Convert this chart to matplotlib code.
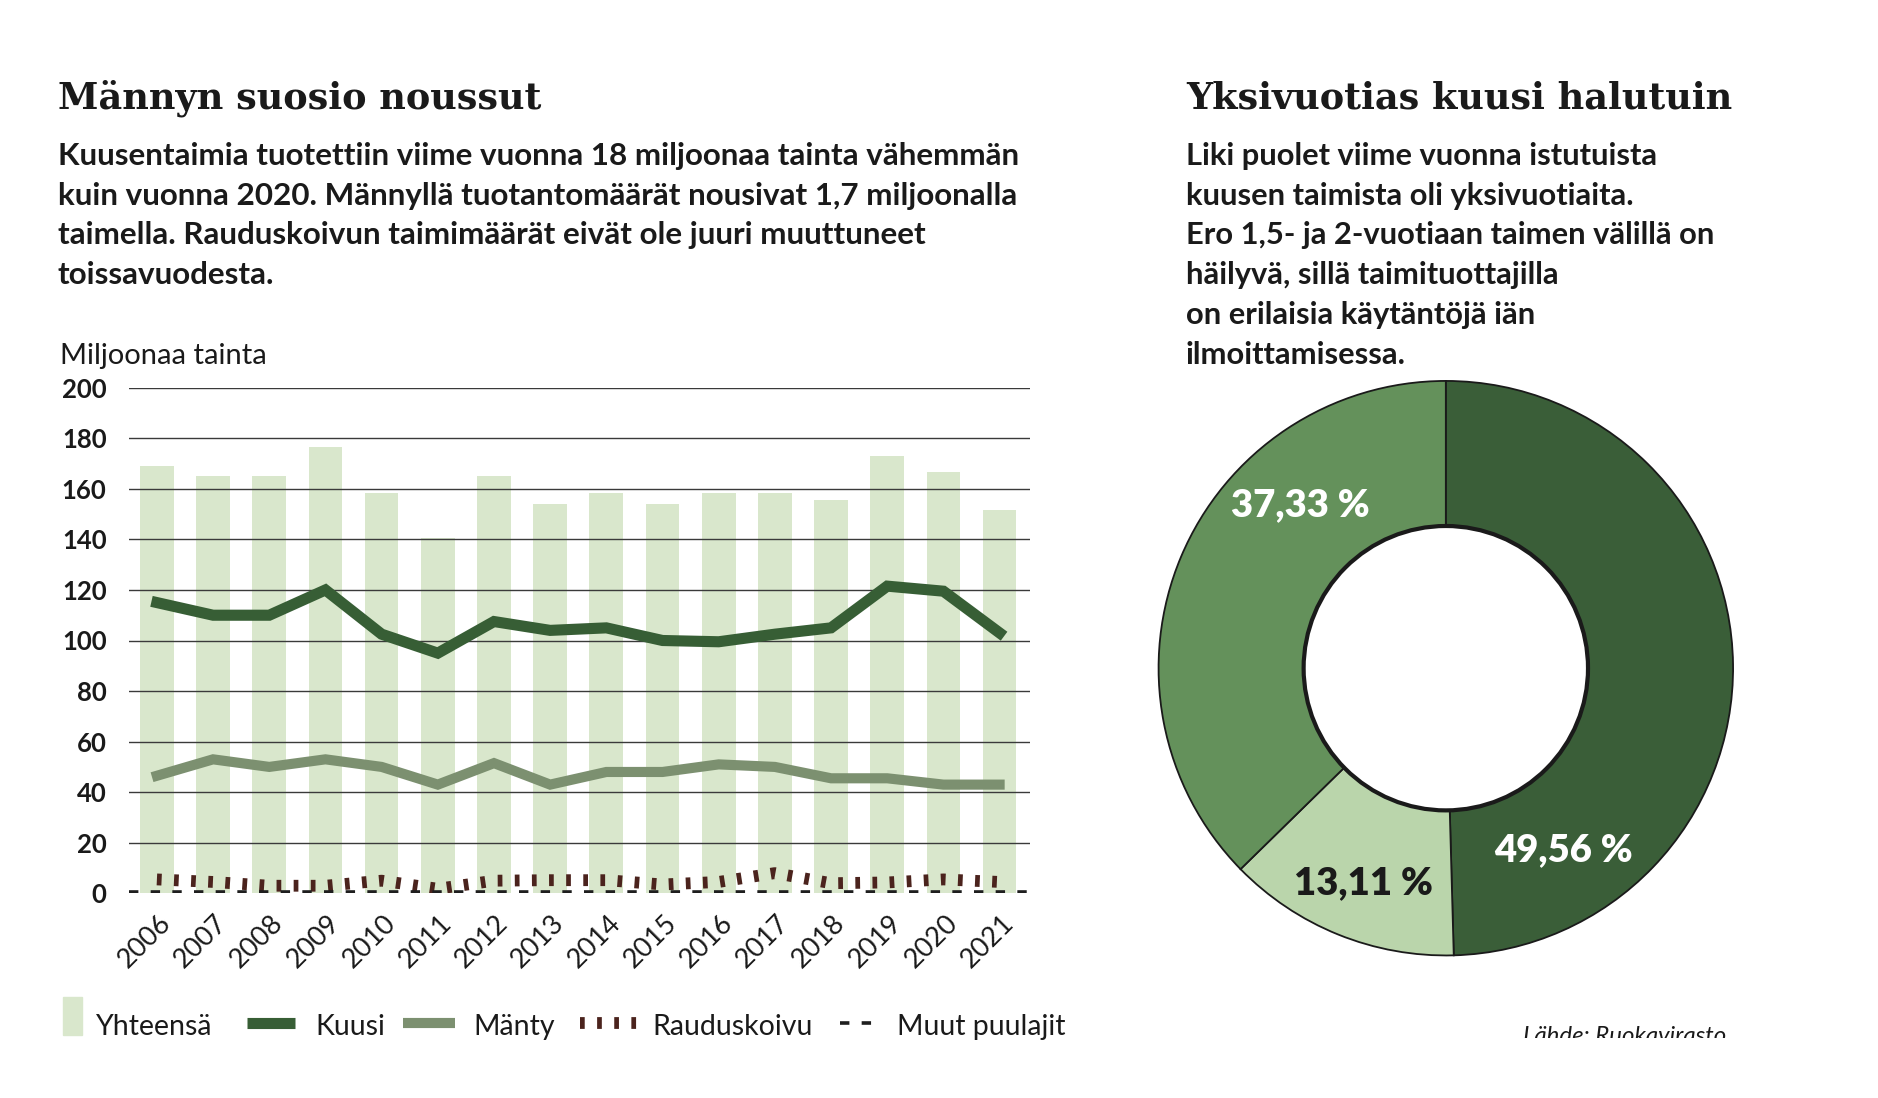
import numpy as np
import matplotlib
matplotlib.use("Agg")
import matplotlib.pyplot as plt
from matplotlib.lines import Line2D
from matplotlib.patches import Rectangle, Circle
from matplotlib.transforms import Bbox, ScaledTranslation

# data
years = ['2006', '2007', '2008', '2009', '2010', '2011', '2012', '2013',
         '2014', '2015', '2016', '2017', '2018', '2019', '2020', '2021']
yhteensa = [169, 165, 165, 176.5, 158.5, 140.5, 165, 154, 158.5, 154, 158.5, 158.5, 155.5, 173, 166.5, 151.5]
kuusi = [115, 110, 110, 120, 102.5, 95, 107.5, 104, 105, 100, 99.5, 102.5, 105, 121.5, 119.5, 103]
manty = [46.5, 53, 50, 53, 50, 43, 51.5, 43, 48, 48, 51, 50, 45.5, 45.5, 43, 43]
rauduskoivu = [5.5, 4.5, 3, 3, 5, 1.8, 5, 5.2, 5.2, 3.5, 4.5, 8, 4, 4.3, 5.5, 4.5]
muut = [0.6] * 16

pie_labels = ['49,56 %', '13,11 %', '37,33 %']
pie_values = [49.56, 13.11, 37.33]

# colours
c_bar = '#d9e7cc'
c_kuusi = '#375e35'
c_manty = '#7c9070'
c_koivu = '#4b231d'
c_muut = '#1e1e1e'
c_text = '#1a1a1a'
pie_colors = ['#3a5e38', '#bad5ab', '#64915b']

W, H = 1560.0, 912.0  # reference layout units


def fx(x):
    return x / W


def fy(y):
    return 1 - y / H


fig = plt.figure(figsize=(18.78, 10.98), dpi=100)
fig.patch.set_facecolor('white')

sans = ['Lato', 'DejaVu Sans']
serif = ['DejaVu Serif']
koivu_ls = (0, (0.4, 1.05))
muut_ls = (0, (2.6, 3.4))

# titles
fig.text(fx(48), fy(90), 'Männyn suosio noussut', family=serif, weight='bold',
         fontsize=26.4, color=c_text, va='baseline')
fig.text(fx(985), fy(90), 'Yksivuotias kuusi halutuin', family=serif, weight='bold',
         fontsize=26.4, color=c_text, va='baseline')

left_lines = ['Kuusentaimia tuotettiin viime vuonna 18 miljoonaa tainta vähemmän',
              'kuin vuonna 2020. Männyllä tuotantomäärät nousivat 1,7 miljoonalla',
              'taimella. Rauduskoivun taimimäärät eivät ole juuri muuttuneet',
              'toissavuodesta.']
right_lines = ['Liki puolet viime vuonna istutuista',
               'kuusen taimista oli yksivuotiaita.',
               'Ero 1,5- ja 2-vuotiaan taimen välillä on',
               'häilyvä, sillä taimituottajilla',
               'on erilaisia käytäntöjä iän',
               'ilmoittamisessa.']
for i, s in enumerate(left_lines):
    fig.text(fx(48), fy(137 + 33 * i), s, family=sans, weight='bold',
             fontsize=22.6, color=c_text, va='baseline')
for i, s in enumerate(right_lines):
    fig.text(fx(985), fy(137 + 33 * i), s, family=sans, weight='bold',
             fontsize=22.2, color=c_text, va='baseline')

fig.text(fx(50), fy(302), 'Miljoonaa tainta', family=sans, fontsize=21,
         color=c_text, va='baseline')

# line/bar chart
ax = fig.add_axes([fx(107), fy(742), fx(856) - fx(107), fy(322) - fy(742)])
x = np.arange(len(years))
ax.bar(x, yhteensa, width=0.6, color=c_bar, zorder=1)
for v in range(20, 201, 20):
    ax.axhline(v, color='#3a3a3a', lw=1.0, zorder=2)
ax.plot(x, kuusi, color=c_kuusi, lw=8, solid_joinstyle='miter', zorder=4)
ax.plot(x, manty, color=c_manty, lw=7.3, solid_joinstyle='miter', zorder=4)
ax.plot(x, rauduskoivu, color=c_koivu, lw=8.5, linestyle=koivu_ls, zorder=5)
ax.stairs(muut, np.arange(len(years) + 1) - 0.5, baseline=None, color=c_muut,
          lw=2.6, linestyle=muut_ls, zorder=5)

ax.set_xlim(-0.5, 15.55)
ax.set_ylim(0, 200)
for sp in ax.spines.values():
    sp.set_visible(False)
ax.set_yticks(range(0, 201, 20))
ax.set_yticklabels([str(v) for v in range(0, 201, 20)], family=sans,
                   weight='bold', fontsize=18.5, color=c_text)
ax.tick_params(axis='y', length=0, pad=16)
ax.set_xticks(x)
ax.set_xticklabels(years, rotation=45, ha='right', va='top',
                   rotation_mode='anchor', family=sans, fontsize=19.5, color=c_text)
ax.tick_params(axis='x', length=0, pad=12)
off = ScaledTranslation(1 / 72, 0, fig.dpi_scale_trans)
for lab in ax.get_xticklabels():
    lab.set_transform(lab.get_transform() + off)

# legend
fig.add_artist(Rectangle((fx(52), fy(860)), fx(68) - fx(52), fy(828) - fy(860),
                         color=c_bar, transform=fig.transFigure))
fig.add_artist(Line2D([fx(205), fx(245)], [fy(850), fy(850)], color=c_kuusi,
                      lw=8, solid_capstyle='butt', transform=fig.transFigure))
fig.add_artist(Line2D([fx(335), fx(378)], [fy(850), fy(850)], color=c_manty,
                      lw=7.3, solid_capstyle='butt', transform=fig.transFigure))
fig.add_artist(Line2D([fx(482), fx(529)], [fy(850), fy(850)], color=c_koivu,
                      lw=8.5, linestyle=koivu_ls, transform=fig.transFigure))
fig.add_artist(Line2D([fx(698), fx(726)], [fy(850), fy(850)], color=c_muut,
                      lw=2.6, linestyle=muut_ls, transform=fig.transFigure))
for xx, s in [(80, 'Yhteensä'), (262, 'Kuusi'), (393, 'Mänty'),
              (542, 'Rauduskoivu'), (745, 'Muut puulajit')]:
    fig.text(fx(xx), fy(860), s, family=sans, fontsize=20.5, color=c_text,
             va='baseline')

# donut
pax = fig.add_axes([fx(960), fy(796), fx(1442) - fx(960), fy(314) - fy(796)])
pax.pie(pie_values, colors=pie_colors, startangle=90, counterclock=False,
        radius=1, wedgeprops=dict(width=0.505, edgecolor='#1a1a1a', linewidth=1.3))
pax.add_patch(Circle((0, 0), 0.495, fill=False, edgecolor='#1a1a1a', lw=3))
label_pos = [(0.41, -0.635), (-0.286, -0.75), (-0.506, 0.568)]
label_col = ['white', c_text, 'white']
for (lx, ly), s, c in zip(label_pos, pie_labels, label_col):
    pax.text(lx, ly, s, ha='center', va='center', family=sans, weight='heavy',
             fontsize=27.5, color=c)
pax.set_xlim(-1.01, 1.01)
pax.set_ylim(-1.01, 1.01)
pax.set_aspect('equal')
pax.axis('off')

src = fig.text(fx(1265), fy(866), 'Lähde: Ruokavirasto', family=sans,
               style='italic', fontsize=17.3, color=c_text, va='baseline')
src.set_clip_box(Bbox.from_extents(0, 1098 - 1038, 1878, 1098))

fig.savefig('out.png', dpi=100, facecolor='white')
